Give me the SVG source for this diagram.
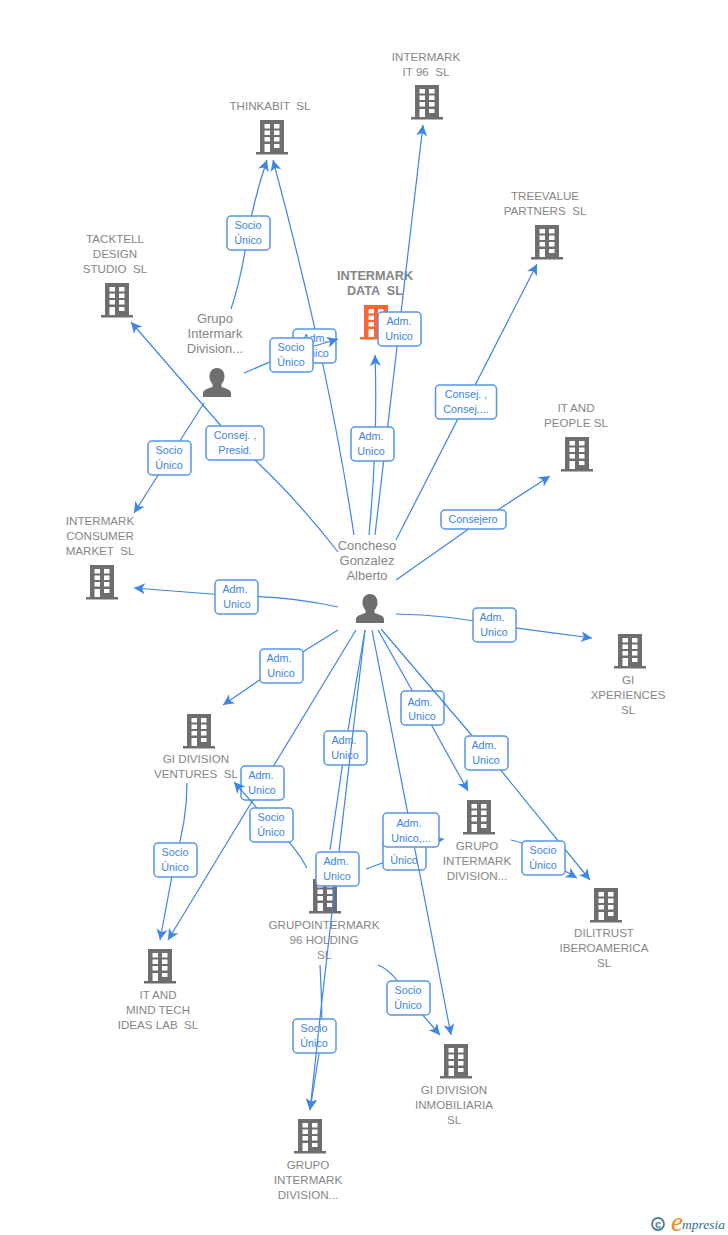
<svg xmlns="http://www.w3.org/2000/svg" width="728" height="1235" viewBox="0 0 728 1235">
<style>
.e{fill:none;stroke:#3d85e6;stroke-width:1.2;marker-end:url(#ah)}
.n{fill:none;stroke:#3d85e6;stroke-width:1.2}
.b{fill:#fff;stroke:#5596e6;stroke-width:1.5}
.l{font:10.8px "Liberation Sans",Arial,sans-serif;fill:#3d85e6;text-anchor:middle}
.t{font:11.6px "Liberation Sans",Arial,sans-serif;fill:#868686;text-anchor:middle;white-space:pre}
.p{font:13px "Liberation Sans",Arial,sans-serif;fill:#868686;text-anchor:middle}
.m{font:bold 12.7px "Liberation Sans",Arial,sans-serif;fill:#868686;text-anchor:middle;white-space:pre}
</style>
<defs>
<marker id="ah" markerUnits="userSpaceOnUse" markerWidth="14" markerHeight="14" refX="11" refY="6" orient="auto">
<path d="M11 6L0 .5L3 6L0 11.500Z" fill="#3d85e6"/>
</marker>
<path id="bp" fill-rule="evenodd" d="M-12 0H12V32H16V34.500H-16V32H-12ZM-7.500 4V8.500H-2V4ZM2 4V8.500H7.500V4ZM-7.500 10.500V15H-2V10.500ZM2 10.500V15H7.500V10.500ZM-7.500 17V21.500H-2V17ZM2 17V21.500H7.500V17ZM-7.500 24V32H-2V24ZM2 24V28H7.500V24Z"/>
<path id="pp" d="M0 0C5 0 7.500 4 7.500 8.500C7.500 12 6 14.500 4.500 16V19C9 20.500 13.500 21.500 14 25V29H-14V25C-13.500 21.500-9 20.500-4.500 19V16C-6 14.500-7.500 12-7.500 8.500C-7.500 4-5 0 0 0Z" fill="#6e6e6e"/>
</defs>
<rect width="728" height="1235" fill="#fff"/>

<g id="nodes">
<g id="n-it96" fill="#6e6e6e"><use href="#bp" x="427" y="85"/><text class="t" x="426" y="61">INTERMARK</text><text class="t" x="426" y="76">IT 96  SL</text></g>
<g id="n-thinkabit" fill="#6e6e6e"><use href="#bp" x="272" y="120"/><text class="t" x="270" y="110">THINKABIT  SL</text></g>
<g id="n-treevalue" fill="#6e6e6e"><use href="#bp" x="547" y="225"/><text class="t" x="545" y="200">TREEVALUE</text><text class="t" x="545" y="215">PARTNERS  SL</text></g>
<g id="n-itpeople" fill="#6e6e6e"><use href="#bp" x="577" y="437"/><text class="t" x="576" y="412">IT AND</text><text class="t" x="576" y="427">PEOPLE SL</text></g>
<g id="n-tacktell" fill="#6e6e6e"><use href="#bp" x="117" y="283"/><text class="t" x="115" y="243">TACKTELL</text><text class="t" x="115" y="258">DESIGN</text><text class="t" x="115" y="273">STUDIO  SL</text></g>
<g id="n-data" fill="#ff6633"><use href="#bp" x="376" y="305"/><text class="m" x="375" y="280">INTERMARK</text><text class="m" x="375" y="295">DATA  SL</text></g>
<g id="n-consumer" fill="#6e6e6e"><use href="#bp" x="102" y="565"/><text class="t" x="100" y="525">INTERMARK</text><text class="t" x="100" y="540">CONSUMER</text><text class="t" x="100" y="555">MARKET  SL</text></g>
<g id="n-xperiences" fill="#6e6e6e"><use href="#bp" x="630" y="634"/><text class="t" x="628" y="684">GI</text><text class="t" x="628" y="699">XPERIENCES</text><text class="t" x="628" y="714">SL</text></g>
<g id="n-ventures" fill="#6e6e6e"><use href="#bp" x="199" y="714"/><text class="t" x="196" y="763">GI DIVISION</text><text class="t" x="196" y="778">VENTURES  SL</text></g>
<g id="n-gid" fill="#6e6e6e"><use href="#bp" x="479" y="800"/><text class="t" x="477" y="850">GRUPO</text><text class="t" x="477" y="865">INTERMARK</text><text class="t" x="477" y="880">DIVISION...</text></g>
<g id="n-dilitrust" fill="#6e6e6e"><use href="#bp" x="606" y="888"/><text class="t" x="604" y="937">DILITRUST</text><text class="t" x="604" y="952">IBEROAMERICA</text><text class="t" x="604" y="967">SL</text></g>
<g id="n-gi96" fill="#6e6e6e"><use href="#bp" x="325" y="879"/><text class="t" x="324" y="929">GRUPOINTERMARK</text><text class="t" x="324" y="944">96 HOLDING</text><text class="t" x="324" y="959">SL</text></g>
<g id="n-itmind" fill="#6e6e6e"><use href="#bp" x="160" y="949"/><text class="t" x="158" y="999">IT AND</text><text class="t" x="158" y="1014">MIND TECH</text><text class="t" x="158" y="1029">IDEAS LAB  SL</text></g>
<g id="n-inmob" fill="#6e6e6e"><use href="#bp" x="456" y="1044"/><text class="t" x="454" y="1094">GI DIVISION</text><text class="t" x="454" y="1109">INMOBILIARIA</text><text class="t" x="454" y="1124">SL</text></g>
<g id="n-gbottom" fill="#6e6e6e"><use href="#bp" x="310" y="1119"/><text class="t" x="308" y="1169">GRUPO</text><text class="t" x="308" y="1184">INTERMARK</text><text class="t" x="308" y="1199">DIVISION...</text></g>
<g id="p-grupo"><use href="#pp" x="217" y="368"/><text class="p" x="215" y="323">Grupo</text><text class="p" x="215" y="338">Intermark</text><text class="p" x="215" y="353">Division...</text></g>
<g id="p-concheso"><use href="#pp" x="370" y="594"/><text class="p" x="367" y="550">Concheso</text><text class="p" x="367" y="565">Gonzalez</text><text class="p" x="367" y="580">Alberto</text></g>
</g>

<g id="connectors">
<path class="e" d="M231 309Q241 280 248 233Q255 195 267 160"/>
<rect class="b" x="227" y="216" width="43" height="34" rx="4"/><text class="l" x="248" y="229">Socio</text><text class="l" x="248" y="244">Único</text>

<path class="e" d="M354 535Q342 455 323 365Q300 260 273 160"/>
<rect class="b" x="293" y="329" width="43" height="34" rx="4"/><text class="l" x="315" y="342">Adm.</text><text class="l" x="315" y="357">Unico</text>

<path class="e" d="M244 373L291 353L338 339"/>
<rect class="b" x="270" y="338" width="43" height="34" rx="4"/><text class="l" x="291" y="351">Socio</text><text class="l" x="291" y="366">Único</text>

<path class="e" d="M375 535L423 125"/>
<rect class="b" x="378" y="312" width="43" height="34" rx="4"/><text class="l" x="399" y="325">Adm.</text><text class="l" x="399" y="340">Unico</text>

<path class="e" d="M369 535Q378 440 375 355"/>
<rect class="b" x="351" y="427" width="43" height="34" rx="4"/><text class="l" x="371" y="440">Adm.</text><text class="l" x="371" y="455">Unico</text>

<path class="e" d="M396 540L537 264"/>
<rect class="b" x="435.500" y="385" width="61" height="34" rx="4"/><text class="l" x="466" y="398">Consej. ,</text><text class="l" x="466" y="413">Consej....</text>

<path class="e" d="M396 580L470 528L550 476"/>
<rect class="b" x="441" y="510" width="65" height="19" rx="4"/><text class="l" x="473" y="523">Consejero</text>

<path class="e" d="M396 614Q450 615 494 625Q545 632 592 638"/>
<rect class="b" x="473" y="608" width="43" height="34" rx="4"/><text class="l" x="492" y="621">Adm.</text><text class="l" x="494" y="636">Unico</text>

<path class="e" d="M338 607Q290 596 237 596L134 588"/>
<rect class="b" x="215" y="580" width="43" height="34" rx="4"/><text class="l" x="235" y="593">Adm.</text><text class="l" x="237" y="608">Unico</text>

<path class="e" d="M338 630L280 666L223 705"/>
<rect class="b" x="260" y="649" width="43" height="34" rx="4"/><text class="l" x="279" y="662">Adm.</text><text class="l" x="281" y="677">Unico</text>

<path class="e" d="M338 552Q290 490 235 442L131 322"/>
<rect class="b" x="206" y="426" width="58" height="34" rx="4"/><text class="l" x="235" y="439">Consej. ,</text><text class="l" x="235" y="454">Presid.</text>

<path class="e" d="M204 403L169 458L134 513"/>
<rect class="b" x="148" y="441" width="43" height="34" rx="4"/><text class="l" x="169" y="454">Socio</text><text class="l" x="169" y="469">Único</text>

<path class="e" d="M378 630L422 708L468 791"/>
<rect class="b" x="401" y="691" width="43" height="34" rx="4"/><text class="l" x="420" y="706">Adm.</text><text class="l" x="422" y="720">Unico</text>

<path class="e" d="M381 629L486 752L590 880"/>
<rect class="b" x="465" y="736" width="43" height="34" rx="4"/><text class="l" x="484" y="749">Adm.</text><text class="l" x="486" y="764">Unico</text>

<path class="e" d="M511 840Q535 845 543 858L577 878"/>
<rect class="b" x="522" y="841" width="43" height="34" rx="4"/><text class="l" x="543" y="854">Socio</text><text class="l" x="543" y="869">Único</text>

<path class="e" d="M356 630L262 785L168 940"/>
<rect class="b" x="241" y="766" width="43" height="34" rx="4"/><text class="l" x="261" y="779">Adm.</text><text class="l" x="262" y="794">Unico</text>

<path class="e" d="M307 868Q295 845 272 825L234 782"/>
<rect class="b" x="250" y="808" width="43" height="34" rx="4"/><text class="l" x="271" y="821">Socio</text><text class="l" x="271" y="836">Único</text>

<path class="e" d="M187 783Q187 820 175 860L160 940"/>
<rect class="b" x="154" y="843" width="43" height="34" rx="4"/><text class="l" x="175" y="856">Socio</text><text class="l" x="175" y="871">Único</text>

<path class="n" d="M365 630L345 748L330 850"/>
<rect class="b" x="324" y="731" width="43" height="34" rx="4"/><text class="l" x="344" y="744">Adm.</text><text class="l" x="345" y="759">Unico</text>

<path class="e" d="M366 869L404 855Q425 842 444 839"/>
<rect class="b" x="383" y="836" width="43" height="34" rx="4"/><text class="l" x="404" y="864">Único</text>

<path class="e" d="M372 630L411 830L421 880L451 1035"/>
<rect class="b" x="383" y="813" width="56" height="34" rx="4"/><text class="l" x="409" y="827">Adm.</text><text class="l" x="411" y="842">Unico,...</text>

<path class="e" d="M378 965Q395 972 408 998L440 1035"/>
<rect class="b" x="387" y="981" width="43" height="34" rx="4"/><text class="l" x="408" y="994">Socio</text><text class="l" x="408" y="1009">Único</text>

<path class="e" d="M320 965Q322 1000 322 1035L310 1110"/>
<rect class="b" x="293" y="1019" width="43" height="34" rx="4"/><text class="l" x="314" y="1032">Socio</text><text class="l" x="314" y="1047">Único</text>

<path class="e" d="M365 630L337 868L322 1000L310 1110"/>
<rect class="b" x="316" y="852" width="43" height="34" rx="4"/><text class="l" x="336" y="865">Adm.</text><text class="l" x="337" y="880">Unico</text>
</g>

<g id="logo">
<circle cx="658" cy="1224" r="6" fill="none" stroke="#4a7f96" stroke-width="1.800"/>
<text x="658" y="1228" font-family="Liberation Sans,sans-serif" font-size="11" font-weight="bold" fill="#4a7f96" text-anchor="middle">c</text>
<text x="671" y="1231" font-family="Liberation Serif,serif" font-size="27" font-style="italic" fill="#f08a1d">e</text>
<text x="682" y="1229" font-family="Liberation Serif,serif" font-size="13.500" font-style="italic" fill="#2f6f86">mpresia</text>
</g>
</svg>
